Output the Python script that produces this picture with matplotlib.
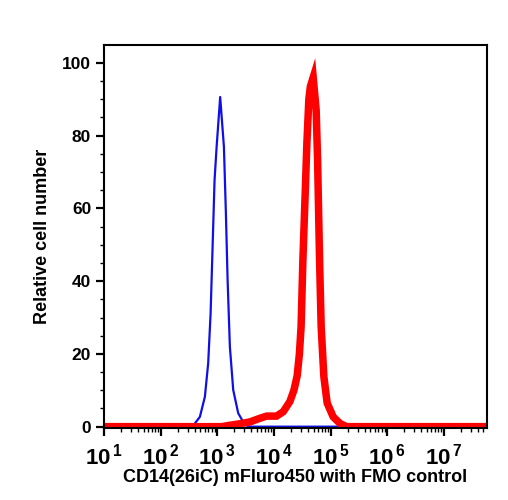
import matplotlib
matplotlib.use('Agg')
import matplotlib.pyplot as plt
from matplotlib.ticker import FixedLocator, LogLocator, NullFormatter, MultipleLocator

## data
fmo_x = [9, 330, 377, 494, 605, 692, 764, 828, 897, 975, 1127, 1312, 1422, 1524,
         1671, 1914, 2344, 3076, 3767, 6e7]
fmo_y = [0, 0, 0.3, 2.7, 8.2, 17.4, 31.2, 49.5, 67.8, 76.9, 90.6, 76.9, 58.6, 40.3,
         22.0, 10.1, 3.7, 0.5, 0, 0]

cd14_x = [9, 1200, 1542, 2512, 3767, 5662, 7430, 11140, 14590, 19140, 22540, 25760,
          28180, 30200, 32490, 35650, 38180, 41390, 44020, 49360, 55710, 59020,
          63970, 68260, 76210, 87100, 111200, 146000, 191900, 6e7]
cd14_y = [0, 0, 0.3, 0.8, 1.3, 2.3, 2.9, 2.9, 4.1, 6.9, 10.0, 14.0,
          20.0, 27.5, 45.8, 64.0, 77.8, 90.0, 93.5, 96.0, 87.0, 73.3,
          45.8, 27.5, 13.7, 6.5, 2.7, 0.9, 0, 0]

decades = [1, 2, 3, 4, 5, 6, 7]
y_ticks = [0, 20, 40, 60, 80, 100]

## fonts
plt.rcParams['font.family'] = ['Liberation Sans', 'DejaVu Sans']
plt.rcParams['font.weight'] = 'bold'
plt.rcParams['mathtext.fontset'] = 'custom'
plt.rcParams['mathtext.rm'] = 'Liberation Sans:bold'
plt.rcParams['mathtext.bf'] = 'Liberation Sans:bold'
plt.rcParams['mathtext.default'] = 'rm'

fig = plt.figure(figsize=(5.08, 5.0), dpi=100)
ax = fig.add_axes([0.204, 0.1434, 0.755, 0.7666])

ax.plot(fmo_x, fmo_y, color='#1010e6', linewidth=1.6, zorder=2)
ax.plot(cd14_x, cd14_y, color='#ff0000', linewidth=5.4, solid_joinstyle='miter', zorder=3)

## axes
ax.set_xscale('log')
ax.set_xlim(10 ** 0.995, 10 ** 7.764)
ax.set_ylim(-0.45, 104.9)

ax.xaxis.set_major_locator(FixedLocator([10 ** d for d in decades]))
ax.set_xticklabels([r'$10^{\,%d}$' % d for d in decades])
ax.xaxis.set_minor_locator(LogLocator(base=10, subs=range(2, 10), numticks=20))
ax.xaxis.set_minor_formatter(NullFormatter())

ax.set_yticks(y_ticks)
ax.yaxis.set_minor_locator(MultipleLocator(5))

ax.tick_params(axis='both', which='major', direction='out', length=6, width=1.6,
               top=False, right=False)
ax.tick_params(axis='both', which='minor', direction='out', length=3, width=1.0,
               top=False, right=False)
ax.tick_params(axis='x', which='major', labelsize=16, pad=5)
ax.tick_params(axis='y', which='major', labelsize=12.5, pad=3)

for s in ax.spines.values():
    s.set_linewidth(1.5)
    s.set_zorder(4)

## labels
ax.set_xlabel('CD14(26iC) mFluro450 with FMO control', fontsize=13,
              fontweight='bold', labelpad=0)
ax.set_ylabel('Relative cell number', fontsize=13, fontweight='bold', labelpad=8)

fig.savefig('out.png', dpi=100)
